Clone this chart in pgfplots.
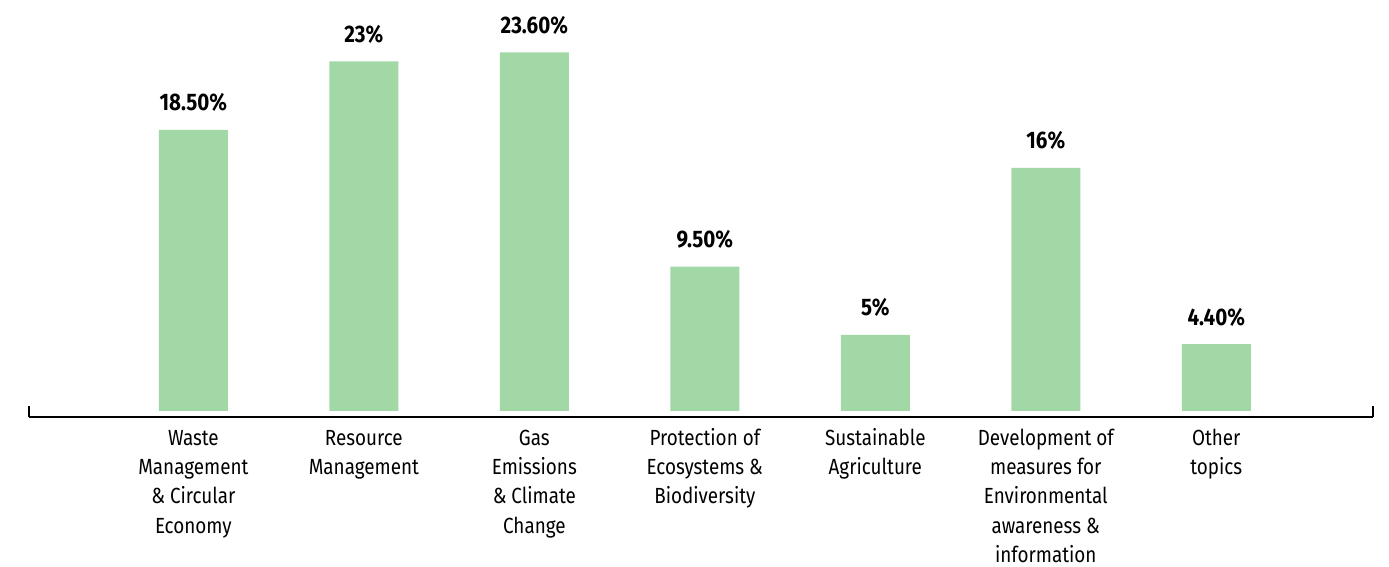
\documentclass[border=0pt]{standalone}
\usepackage{fontspec}
\setmainfont{Fira Sans}[FakeStretch=0.86]
\usepackage{pgfplots}
\pgfplotsset{compat=1.18}
\definecolor{barg}{RGB}{162,215,166}
\newcommand{\fl}{\rule{0pt}{20bp}}
\begin{document}
\begin{tikzpicture}
\useasboundingbox (0,0) rectangle (1389bp,567bp);
\begin{axis}[
  at={(29bp,150bp)}, anchor=south west,
  scale only axis, width=1344bp, height=386bp,
  xmin=-0.964, xmax=6.919, ymin=-0.4, ymax=25,
  axis x line*=bottom, axis y line=none,
  x axis line style={-, line width=1.1bp, black},
  ybar, bar width=69bp, bar shift=0pt,
  xtick={0,1,2,3,4,5,6},
  xticklabels={{\fl Waste\\Management\\\& Circular\\Economy},{\fl Resource\\Management},{\fl Gas\\Emissions\\\& Climate\\Change},{\fl Protection of\\Ecosystems \&\\Biodiversity},{\fl Sustainable\\Agriculture},{\fl Development of\\measures for\\Environmental\\awareness \&\\information},{\fl Other\\topics}},
  major tick length=0pt,
  tick style={black, line width=1.1bp},
  extra x ticks={-0.964,6.919},
  extra x tick labels={},
  extra x tick style={major tick length=11bp, tick align=inside},
  x tick label style={font=\fontsize{22}{29.5}\selectfont, align=center, anchor=north, inner sep=0pt, yshift=-8bp},
  clip=false,
  point meta=explicit symbolic,
  nodes near coords={\pgfplotspointmeta},
  nodes near coords style={font=\fontsize{24}{24}\selectfont\bfseries, anchor=base, inner sep=0pt, yshift=19bp, black},
]
\addplot[fill=barg, draw=none] coordinates {
  (0,18.5) [18.50\%]
  (1,23) [23\%]
  (2,23.6) [23.60\%]
  (3,9.5) [9.50\%]
  (4,5) [5\%]
  (5,16) [16\%]
  (6,4.4) [4.40\%]
};
\end{axis}
\end{tikzpicture}
\end{document}
